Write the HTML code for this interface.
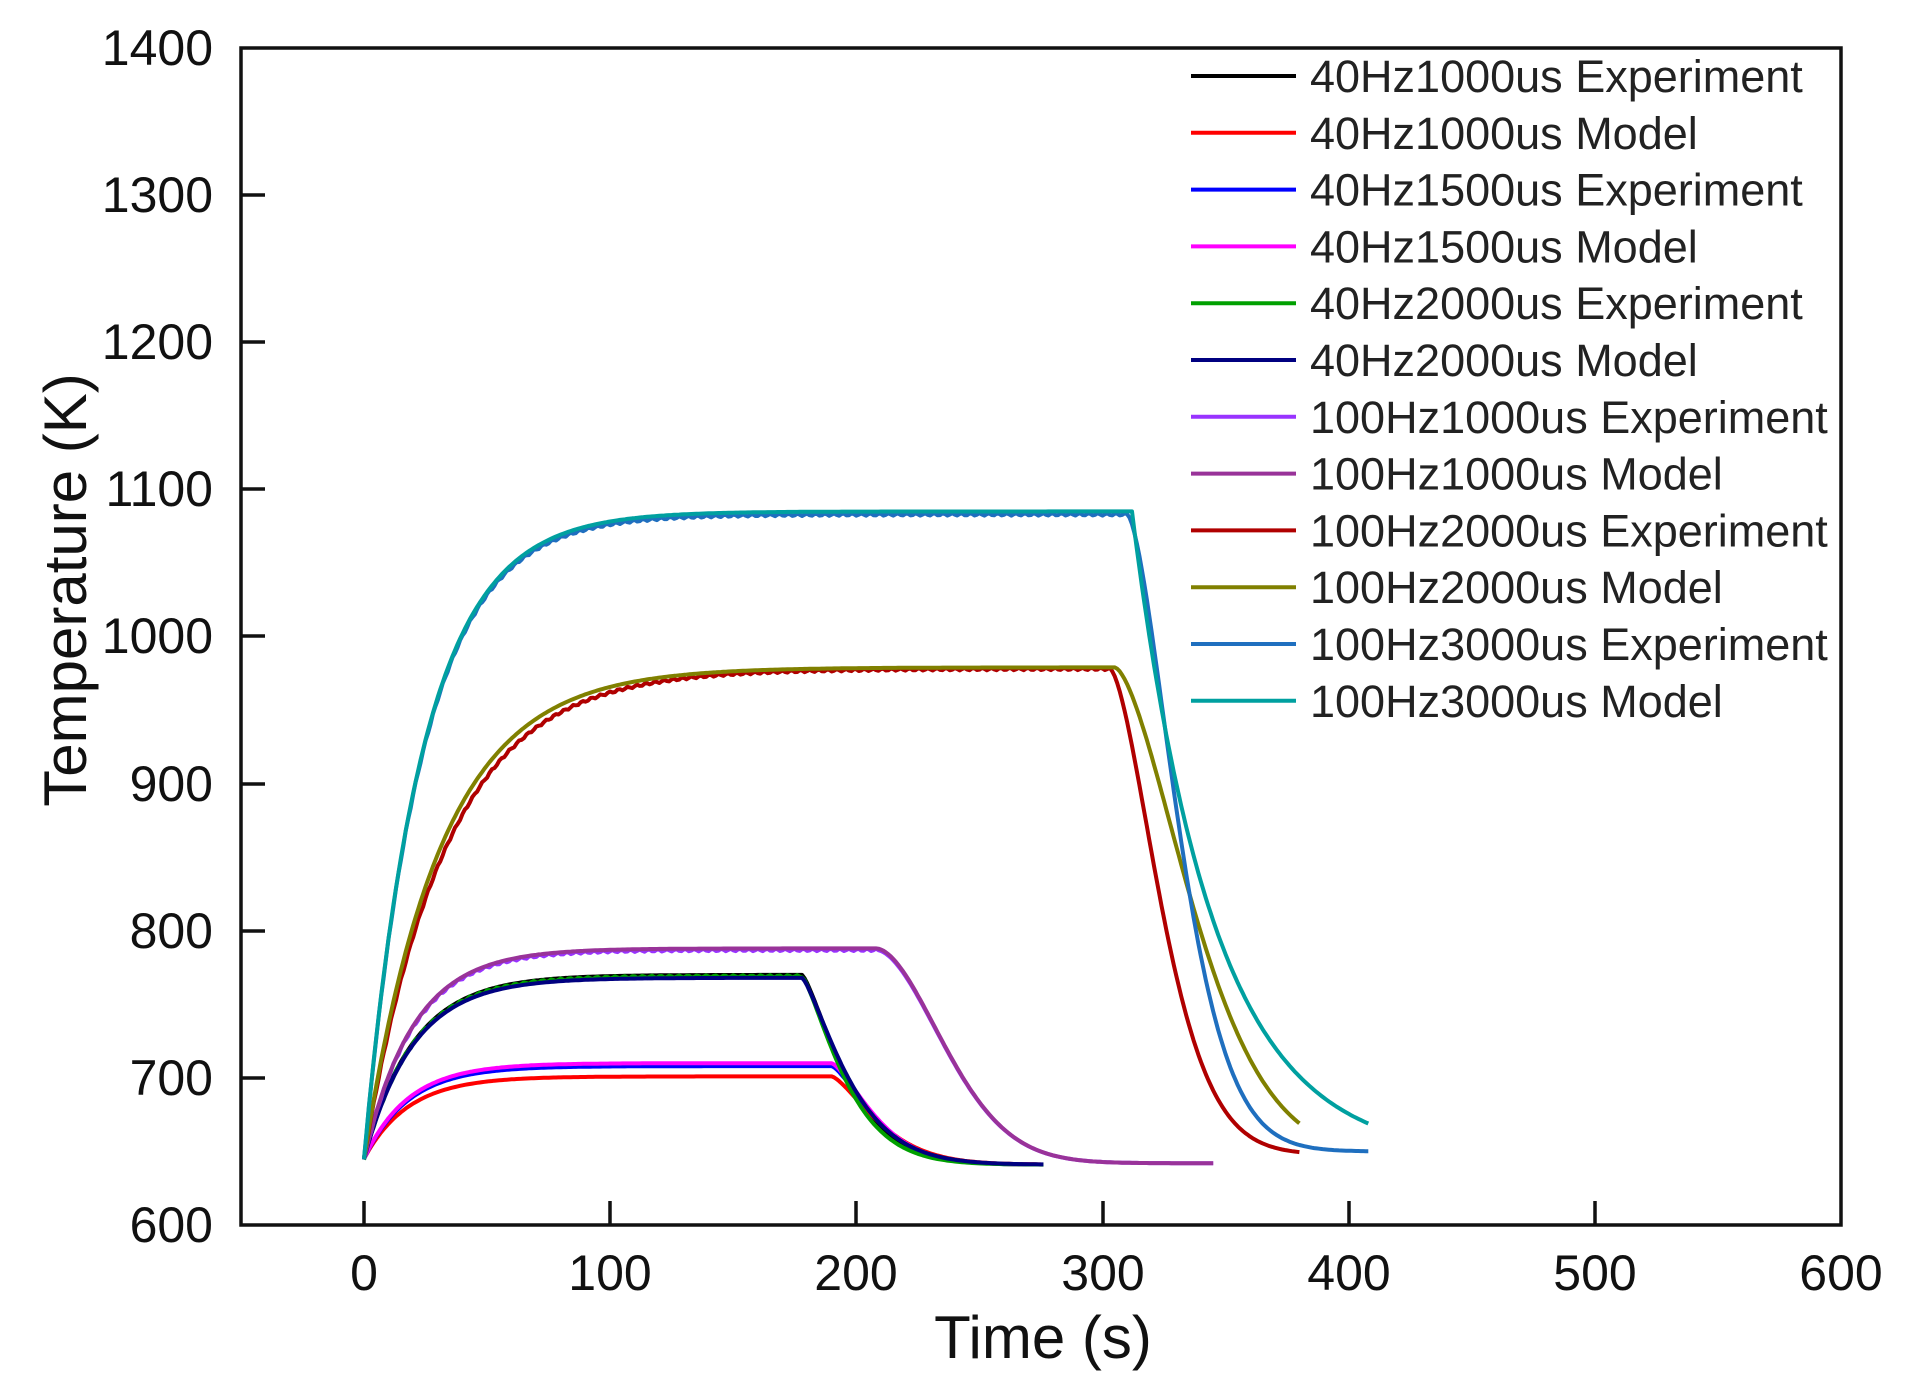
<!DOCTYPE html>
<html><head><meta charset="utf-8"><style>
html,body{margin:0;padding:0;background:#fff;}
svg{display:block;font-family:"Liberation Sans",Arial,sans-serif;}
</style></head><body>
<svg id="s" width="1909" height="1397" viewBox="0 0 1909 1397" xmlns="http://www.w3.org/2000/svg">
<rect width="1909" height="1397" fill="#fff"/>
<g id="curves" fill="none" stroke-width="4" stroke-linejoin="round"></g>
<rect x="241" y="48" width="1600" height="1177" fill="none" stroke="#111" stroke-width="3.5"/>
<g stroke="#111" stroke-width="3.5">
<line x1="364" y1="1225" x2="364" y2="1201"/><line x1="610" y1="1225" x2="610" y2="1201"/>
<line x1="856" y1="1225" x2="856" y2="1201"/><line x1="1103" y1="1225" x2="1103" y2="1201"/>
<line x1="1349" y1="1225" x2="1349" y2="1201"/><line x1="1595" y1="1225" x2="1595" y2="1201"/>
<line x1="241" y1="195" x2="265" y2="195"/><line x1="241" y1="342" x2="265" y2="342"/>
<line x1="241" y1="489" x2="265" y2="489"/><line x1="241" y1="636" x2="265" y2="636"/>
<line x1="241" y1="784" x2="265" y2="784"/><line x1="241" y1="931" x2="265" y2="931"/>
<line x1="241" y1="1078" x2="265" y2="1078"/>
</g>
<g font-size="50" fill="#111" text-anchor="end">
<text x="213" y="65">1400</text><text x="213" y="212">1300</text><text x="213" y="359">1200</text>
<text x="213" y="506">1100</text><text x="213" y="653">1000</text><text x="213" y="801">900</text>
<text x="213" y="948">800</text><text x="213" y="1095">700</text><text x="213" y="1242">600</text>
</g>
<g font-size="50" fill="#111" text-anchor="middle">
<text x="364" y="1290">0</text><text x="610" y="1290">100</text><text x="856" y="1290">200</text>
<text x="1103" y="1290">300</text><text x="1349" y="1290">400</text><text x="1595" y="1290">500</text>
<text x="1841" y="1290">600</text>
</g>
<text x="1043" y="1358" font-size="60" text-anchor="middle" fill="#111">Time (s)</text>
<text transform="translate(86,590) rotate(-90)" font-size="60" text-anchor="middle" fill="#111">Temperature (K)</text>
<g id="legend" font-size="45" fill="#222"></g>
</svg>
<script>
var X=function(t){return 364+t*2.4615;}, Y=function(T){return 1225-(T-600)*1.47125;};
var S=[
["40Hz1000us Experiment","#000000",641,770,20,178,22,1.3,276,0],
["40Hz1000us Model","#ff0000",641,701,18,190,24,1.4,275,0],
["40Hz1500us Experiment","#0000ff",641,708,18,190,22,1.4,275,0],
["40Hz1500us Model","#ff00ff",641,710,18,190,22,1.4,275,0],
["40Hz2000us Experiment","#00a000",641,769,20,178,21,1.3,276,1],
["40Hz2000us Model","#000080",641,768,20,178,23,1.3,276,0],
["100Hz1000us Experiment","#9933ff",642,787,20,208,37,1.8,345,1],
["100Hz1000us Model","#993399",642,788,20,208,37,1.8,345,0],
["100Hz2000us Experiment","#b00000",648,978,33,303,27,1.6,380,1],
["100Hz2000us Model","#808000",645,979,31,305,41,1.6,380,0],
["100Hz3000us Experiment","#1f6fbf",650,1083,24,310,27,1.6,408,1],
["100Hz3000us Model","#00a0a0",645,1085,24,312,33,1.0,408,0]];
var g=document.getElementById('curves'),L=document.getElementById('legend'),ns="http://www.w3.org/2000/svg";
S.forEach(function(s,i){
 var b=s[2],P=s[3],tau=s[4],off=s[5],tc=s[6],n=s[7],end=s[8],d="",st=645;
 var Poff=P;
 for(var t=0;t<=end;t+=1){
  var T;
  if(t<=off){T=st+(P-st)*(1-Math.exp(-t/tau));Poff=T;}
  else{T=b+(Poff-b)*Math.exp(-Math.pow((t-off)/tc,n));}
  if(s[9]&&t<=off) T+=Math.sin(t*1.7+i)*0.8;
  d+=(t?"L":"M")+X(t).toFixed(1)+" "+Y(T).toFixed(1);
 }
 var p=document.createElementNS(ns,"path");p.setAttribute("d",d);p.setAttribute("stroke",s[1]);g.appendChild(p);
 var y=76+i*56.8;
 var l=document.createElementNS(ns,"line");l.setAttribute("x1",1191);l.setAttribute("x2",1296);l.setAttribute("y1",y);l.setAttribute("y2",y);l.setAttribute("stroke",s[1]);l.setAttribute("stroke-width",4);L.appendChild(l);
 var tx=document.createElementNS(ns,"text");tx.setAttribute("x",1310);tx.setAttribute("y",y+16);tx.textContent=s[0];L.appendChild(tx);
});
</script>
</body></html>
